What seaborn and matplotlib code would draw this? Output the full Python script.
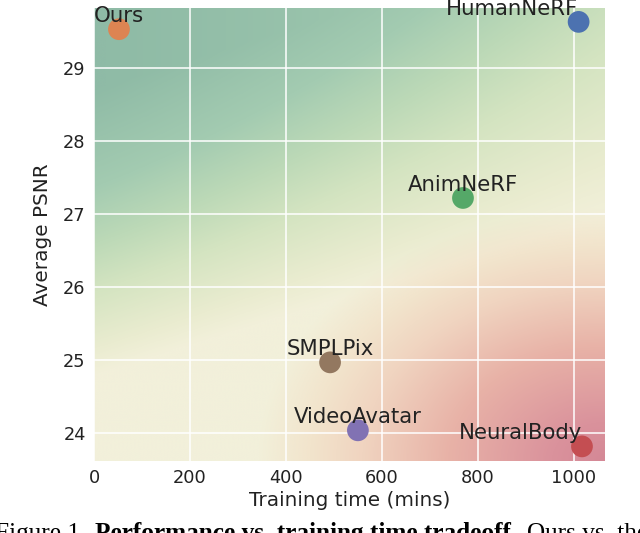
import numpy as np
import pandas as pd
import matplotlib
matplotlib.use("Agg")
import matplotlib.pyplot as plt
from matplotlib.colors import LinearSegmentedColormap
import seaborn as sns

methods = ["HumanNeRF", "Ours", "AnimNeRF", "NeuralBody", "VideoAvatar", "SMPLPix"]
train_time = [1010, 52, 769, 1017, 550, 492]
psnr = [29.63, 29.53, 27.22, 23.82, 24.04, 24.97]
label_ha = ["right", "center", "center", "right", "center", "center"]

xticks = [0, 200, 400, 600, 800, 1000]
yticks = [24, 25, 26, 27, 28, 29]

df = pd.DataFrame({"method": methods, "time": train_time, "psnr": psnr})

sns.set_theme(style="darkgrid")
plt.rcParams["font.family"] = ["DejaVu Sans"]

fig = plt.figure(figsize=(6.4, 5.33), dpi=100)
ax = fig.add_axes([94 / 640, 72 / 533, 511 / 640, 453 / 533])

xlim = (0, 1065)
ylim = (23.62, 29.82)

# background gradient: green towards top-left, red towards bottom-right, cream between
def c(r, g, b):
    return (r / 255, g / 255, b / 255)

cream = np.array(c(242, 240, 218))
green_cmap = LinearSegmentedColormap.from_list(
    "g", [(0.0, c(242, 240, 218)), (0.09, c(234, 236, 208)), (0.29, c(212, 228, 193)),
          (0.46, c(188, 217, 183)), (0.66, c(163, 203, 177)), (1.0, c(143, 187, 166))])
red_cmap = LinearSegmentedColormap.from_list(
    "r", [(0.0, c(242, 240, 218)), (0.15, c(242, 228, 204)), (0.30, c(240, 212, 192)),
          (0.55, c(232, 178, 167)), (0.85, c(218, 146, 156)), (1.0, c(212, 136, 150))])

u = np.linspace(0, 1, 500)
w = np.linspace(0, 1, 500)
U, W = np.meshgrid(u, w)
G = np.clip((W - 0.19 - 0.35 * U) / 0.63, 0, 1) * (1 - 0.5 * U ** 1.3)
R = np.clip(1 - np.sqrt(((1 - U) / 0.68) ** 2 + (W / 0.56) ** 2), 0, 1)
rgb = green_cmap(G)[..., :3] + red_cmap(R)[..., :3] - cream
rgb = np.clip(rgb, 0, 1)

ax.imshow(rgb, origin="lower",
          extent=[xlim[0], xlim[1], ylim[0], ylim[1]], aspect="auto",
          interpolation="bilinear", zorder=0)

sns.scatterplot(data=df, x="time", y="psnr", hue="method", hue_order=methods,
                palette="deep", s=245, linewidth=0, legend=False, ax=ax, zorder=3)

for m, t, p, ha in zip(methods, train_time, psnr, label_ha):
    ax.text(t, p + 0.1, m, ha=ha, va="baseline", fontsize=15.3,
            color="#222222", zorder=4)

ax.set_xlim(xlim)
ax.set_ylim(ylim)
ax.set_xticks(xticks)
ax.set_yticks(yticks)
ax.grid(True, color="white", linewidth=1.1)
ax.set_axisbelow(True)
for sp in ax.spines.values():
    sp.set_visible(False)
ax.tick_params(labelsize=12.8, colors="#222222", length=0, pad=6)
ax.set_xlabel("Training time (mins)", fontsize=14.4, color="#222222", labelpad=3)
ax.set_ylabel("Average PSNR", fontsize=14.4, color="#222222", labelpad=8)

# partially visible caption line below the figure (cut off as in the reference)
cy = (533 - 540) / 533
fig.text(-5 / 640, cy, "Figure 1.", family="Liberation Serif", fontsize=18.2,
         va="baseline", ha="left", color="black")
fig.text(95 / 640, cy, "Performance vs. training time tradeoff.",
         family="Liberation Serif", fontweight="bold", fontsize=18.2,
         va="baseline", ha="left", color="black")
fig.text(527 / 640, cy, "Ours vs. the", family="Liberation Serif", fontsize=18.2,
         va="baseline", ha="left", color="black")

fig.savefig("out.png", dpi=100)
